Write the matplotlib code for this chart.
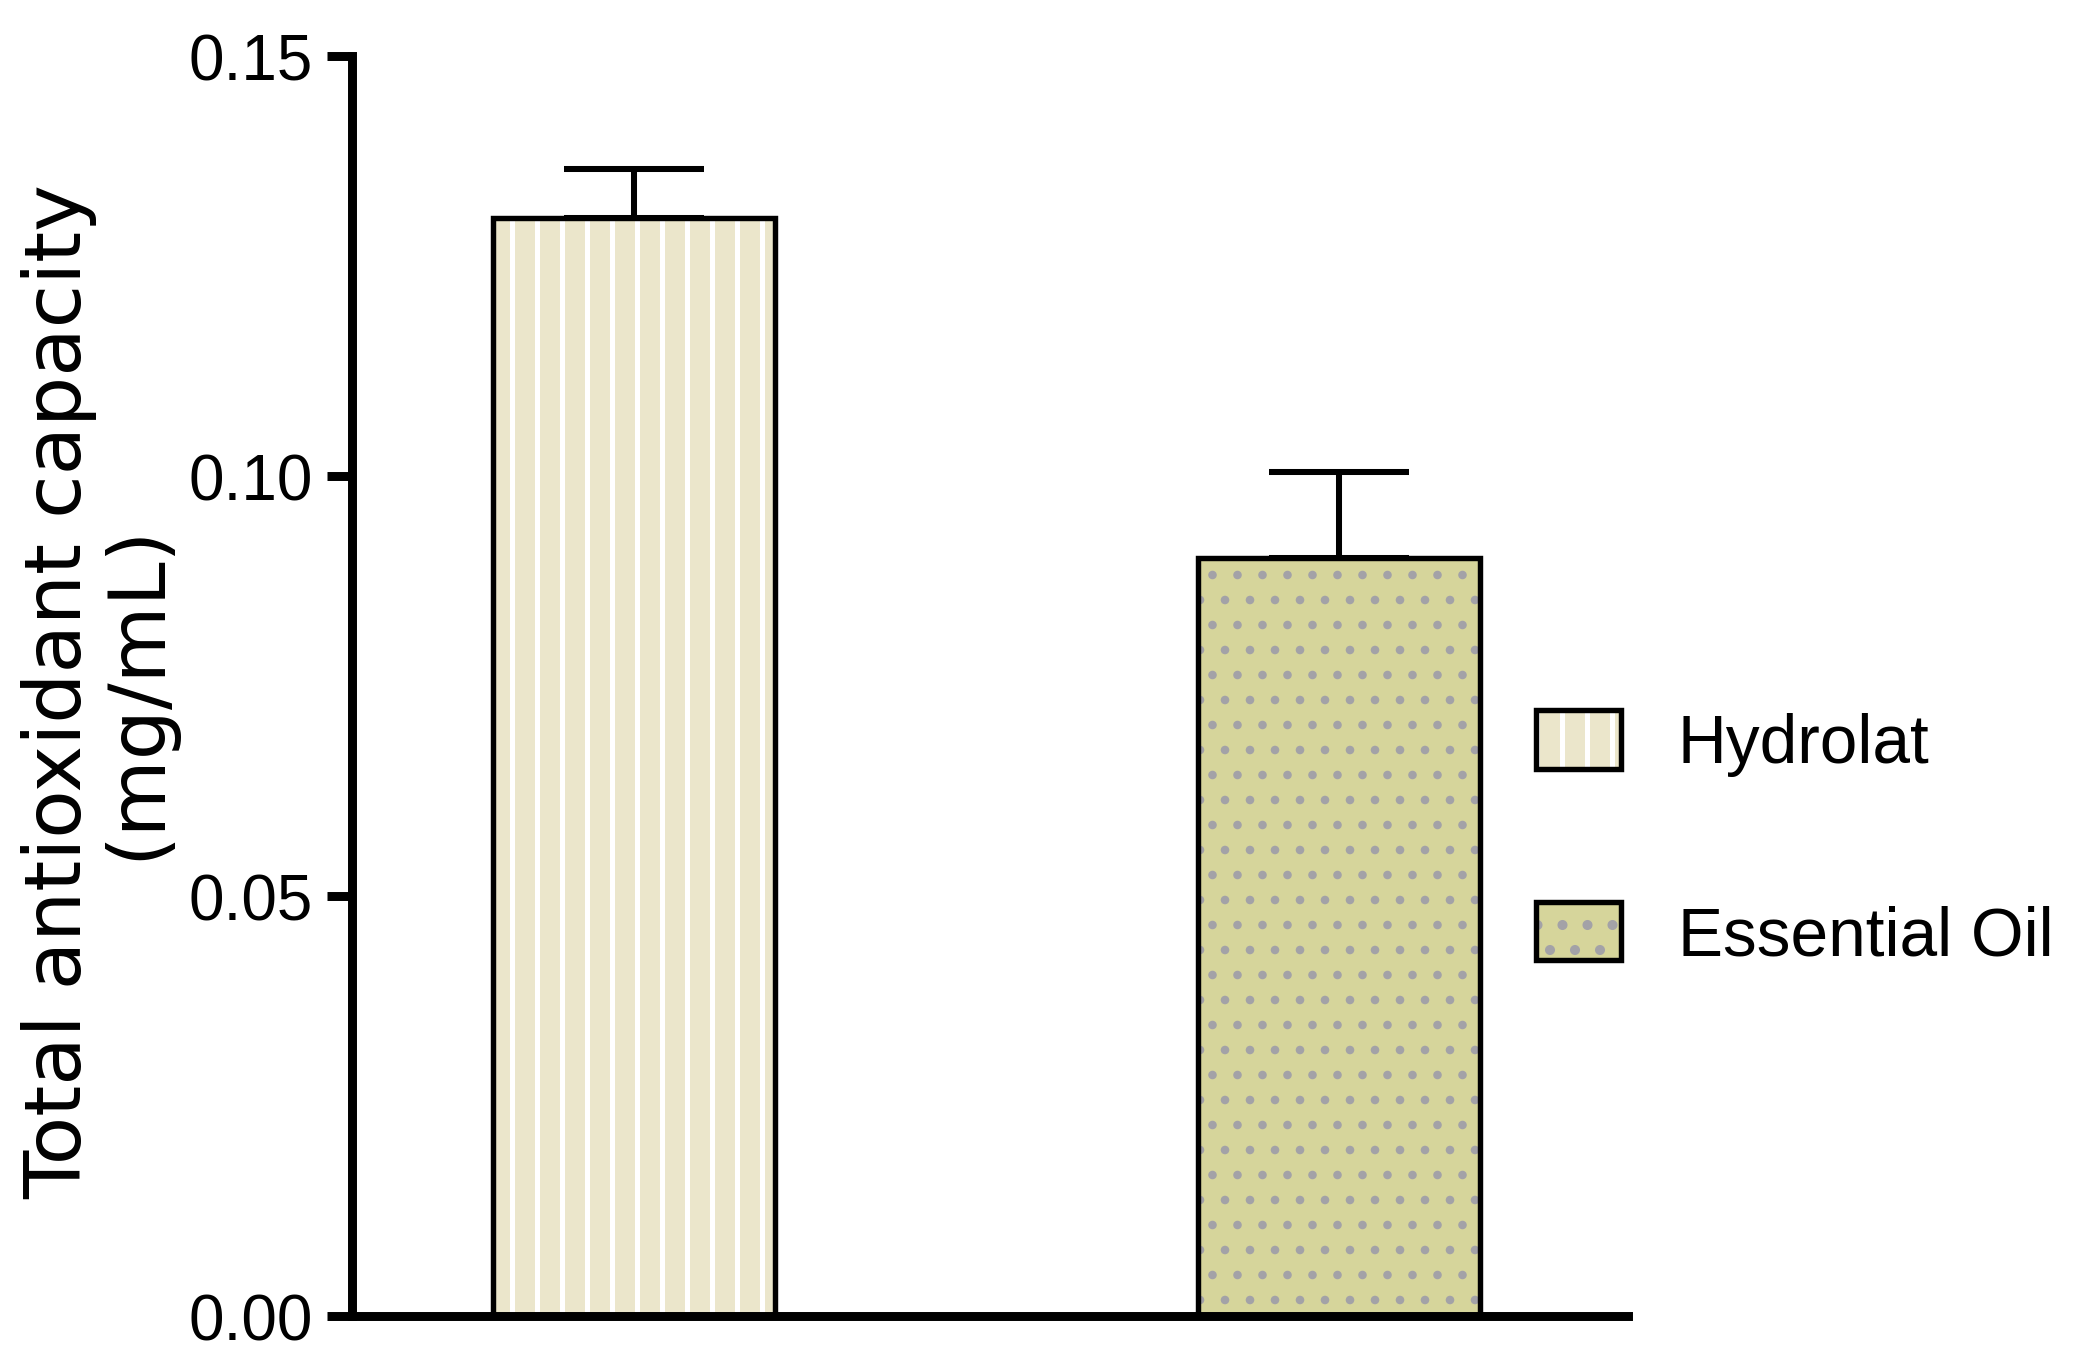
import matplotlib
matplotlib.use("Agg")
import matplotlib.pyplot as plt
from matplotlib import font_manager as fm
from matplotlib.patches import Patch
from matplotlib.legend_handler import HandlerTuple

# data
groups = ["Hydrolat", "Essential Oil"]
means = [0.1307, 0.0902]
sem_up = [0.0058, 0.0103]
yticks = [0.00, 0.05, 0.10, 0.15]
ylabel = "Total antioxidant capacity\n(mg/mL)"

fill_colors = ["#EBE6CB", "#D6D59B"]
hatch_colors = ["#FFFFFF", "#A3A2A7"]
hatches = ["|", "."]
hatch_lw = [2.4, 1.7]


def has_font(name):
    try:
        fm.findfont(fm.FontProperties(family=name), fallback_to_default=False)
        return True
    except ValueError:
        return False


narrow = "Liberation Sans Narrow" if has_font("Liberation Sans Narrow") else "Liberation Sans"
narrow_scale = 1.0 if narrow == "Liberation Sans Narrow" else 0.85

plt.rcParams["hatch.linewidth"] = 2.4

fig = plt.figure(figsize=(13.84, 9.1533), dpi=150)
ax = fig.add_axes([0.1696, 0.0408, 0.7842 - 0.1696, 0.9585 - 0.0408])

x = list(range(len(groups)))
width = 0.4

# filled + hatched bars (hatch takes the edge colour), then outlines on top
fills = ax.bar(x, means, width, color=fill_colors, edgecolor=hatch_colors,
               linewidth=0, zorder=2)
for p, h, lw in zip(fills, hatches, hatch_lw):
    p.set_hatch(h)
    if hasattr(p, "set_hatch_linewidth"):
        p.set_hatch_linewidth(lw)
ax.bar(x, means, width, facecolor="none", edgecolor="black", linewidth=2.6, zorder=3)

ax.errorbar(x, means, yerr=[[0] * len(means), sem_up], fmt="none", ecolor="black",
            elinewidth=2.9, capsize=33.6, capthick=2.9, zorder=1)

ax.set_xlim(-0.4, 1.41)
ax.set_ylim(0, 0.15)
ax.set_yticks(yticks)
ax.set_yticklabels(["%.2f" % v for v in yticks])
ax.set_xticks([])

for s in ["top", "right"]:
    ax.spines[s].set_visible(False)
for s in ["left", "bottom"]:
    ax.spines[s].set_linewidth(4.3)
    ax.spines[s].set_capstyle("projecting")

ax.tick_params(axis="y", length=12, width=4.3, pad=6.7, labelsize=36 * narrow_scale)
for lab in ax.get_yticklabels():
    lab.set_family(narrow)

fig.text(0.0473, 0.496, ylabel, rotation=90, ha="center", va="center",
         multialignment="center", fontsize=38, family="DejaVu Sans", linespacing=1.03)

# legend with two stacked patches per entry
handles = []
for fc, hc, h, lw in zip(fill_colors, hatch_colors, hatches, hatch_lw):
    inner = Patch(facecolor=fc, edgecolor=hc, linewidth=0, hatch=h)
    if hasattr(inner, "set_hatch_linewidth"):
        inner.set_hatch_linewidth(lw)
    outer = Patch(facecolor="none", edgecolor="black", linewidth=2.6)
    handles.append((inner, outer))

fs_leg = 38.2 * narrow_scale
leg = fig.legend(handles, groups, loc="center left",
                 bbox_to_anchor=(1536 / 2076, 1 - 840 / 1373),
                 frameon=False, borderpad=0, borderaxespad=0,
                 handlelength=85 / (fs_leg * 150 / 72), handleheight=65 / (fs_leg * 150 / 72),
                 handletextpad=0.84, labelspacing=1.85,
                 handler_map={tuple: HandlerTuple(ndivide=1, pad=0)},
                 prop={"family": narrow, "size": fs_leg})

fig.savefig("out.png", dpi=150)
